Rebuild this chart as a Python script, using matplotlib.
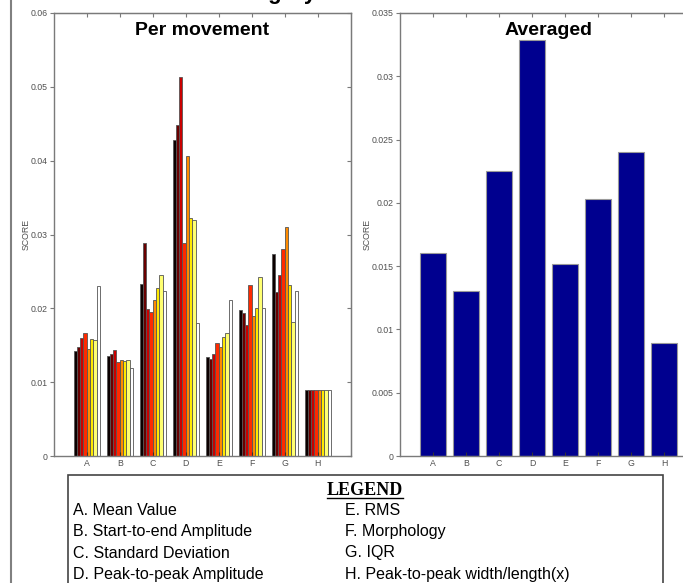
import numpy as np
import matplotlib
matplotlib.use('Agg')
import matplotlib.pyplot as plt
from matplotlib.lines import Line2D
from matplotlib.patches import Rectangle

plt.rcParams['font.family'] = ['Liberation Sans', 'DejaVu Sans']

# ---------------------------------------------------------------------
# Data
categories = ['A', 'B', 'C', 'D', 'E', 'F', 'G', 'H']

# Per movement scores: one list per movement (8 movements), one value per category
movement_scores = [
    [0.0142, 0.0136, 0.0233, 0.0428, 0.0134, 0.0198, 0.0274, 0.0090],
    [0.0148, 0.0138, 0.0289, 0.0448, 0.0131, 0.0194, 0.0222, 0.0089],
    [0.0160, 0.0143, 0.0199, 0.0513, 0.0138, 0.0177, 0.0245, 0.0090],
    [0.0166, 0.0127, 0.0195, 0.0288, 0.0153, 0.0232, 0.0281, 0.0089],
    [0.0145, 0.0130, 0.0211, 0.0406, 0.0148, 0.0190, 0.0310, 0.0089],
    [0.0159, 0.0129, 0.0228, 0.0322, 0.0161, 0.0201, 0.0232, 0.0089],
    [0.0157, 0.0130, 0.0245, 0.0320, 0.0167, 0.0242, 0.0182, 0.0089],
    [0.0230, 0.0119, 0.0223, 0.0180, 0.0211, 0.0201, 0.0224, 0.0089],
]

averaged_scores = [0.0160, 0.0130, 0.0225, 0.0329, 0.0152, 0.0203, 0.0240, 0.0089]

left_yticks = [0, 0.01, 0.02, 0.03, 0.04, 0.05, 0.06]
left_yticklabels = ['0', '0.01', '0.02', '0.03', '0.04', '0.05', '0.06']
right_yticks = [0, 0.005, 0.01, 0.015, 0.02, 0.025, 0.03, 0.035]
right_yticklabels = ['0', '0.005', '0.01', '0.015', '0.02', '0.025', '0.03', '0.035']

legend_left = ['A. Mean Value', 'B. Start-to-end Amplitude',
               'C. Standard Deviation', 'D. Peak-to-peak Amplitude']
legend_right = ['E. RMS', 'F. Morphology', 'G. IQR',
                'H. Peak-to-peak width/length(x)']

# ---------------------------------------------------------------------
W, H = 683, 583
fig = plt.figure(figsize=(W / 100, H / 100), dpi=100)

def px_axes(x0, x1, ytop, ybot):
    """Axes from pixel box (origin top-left)"""
    return fig.add_axes((x0 / W, 1 - ybot / H, (x1 - x0) / W, (ybot - ytop) / H))

SPINE = '#7a7a7a'
TICKTXT = '#505050'

def style_axes(ax, yticks, yticklabels, ymax):
    ax.set_xlim(0, 9)
    ax.set_ylim(0, ymax)
    ax.set_xticks(range(1, 9))
    ax.set_xticklabels(categories)
    ax.set_yticks(yticks)
    ax.set_yticklabels(yticklabels)
    for s in ax.spines.values():
        s.set_color(SPINE)
        s.set_linewidth(1.0)
    ax.tick_params(axis='y', direction='out', length=3, width=0.8, color=SPINE,
                   labelsize=6.3, labelcolor=TICKTXT, pad=1.5)
    ax.tick_params(axis='x', direction='in', length=3, width=0.8, color='#333333',
                   labelsize=6.3, labelcolor=TICKTXT, pad=2.5)
    ax.set_ylabel('SCORE', fontsize=6.3, color=TICKTXT, labelpad=0)

    # Box ticks on top / right point inward
    top = ax.secondary_xaxis('top')
    top.set_xticks(range(1, 9))
    top.tick_params(direction='in', length=3, width=0.8, color=SPINE, labeltop=False)
    top.spines['top'].set_color(SPINE)
    right = ax.secondary_yaxis('right')
    right.set_yticks(yticks)
    right.tick_params(direction='in', length=3, width=0.8, color=SPINE, labelright=False)
    right.spines['right'].set_color(SPINE)

# ---------- Per movement (grouped bars, hot colormap)
ax1 = px_axes(53.7, 350.7, 13, 456)
x = np.arange(1, len(categories) + 1)
nser = len(movement_scores)
colors = plt.cm.hot(np.linspace(0, 1, nser))
for i, vals in enumerate(movement_scores):
    ax1.bar(x + (i - (nser - 1) / 2) * 0.1, vals, width=0.1,
            color=colors[i], edgecolor='#555555', linewidth=0.6)
style_axes(ax1, left_yticks, left_yticklabels, 0.06)
ax1.text(0.5, 0.950, 'Per movement', transform=ax1.transAxes, ha='center',
         va='baseline', fontsize=14, fontweight='bold')

# ---------- Averaged
ax2 = px_axes(400, 697, 13, 456)
ax2.bar(x, averaged_scores, width=0.8, color='#00008f', edgecolor='#9a9a9a', linewidth=0.8)
style_axes(ax2, right_yticks, right_yticklabels, 0.035)
ax2.text(0.5, 0.950, 'Averaged', transform=ax2.transAxes, ha='center',
         va='baseline', fontsize=14, fontweight='bold')

# ---------- Page decorations: title (cut off by the page top) and left frame line
fig.text(316 / W, 1 + 1 / H, 'Score of each Category', ha='right', va='baseline',
         fontsize=16, fontweight='bold')
fig.add_artist(Line2D([11 / W, 11 / W], [0, 1], color='#808080', lw=1.5))

# ---------- Legend box
fig.add_artist(Rectangle((67.7 / W, -10 / H), (663 - 67.7) / W, (H + 10 - 475) / H,
                         transform=fig.transFigure, fill=False,
                         edgecolor='#444444', lw=1.2))
fig.text(365 / W, 1 - 495 / H, 'LEGEND', ha='center', va='baseline',
         fontsize=13, fontweight='bold', family='Liberation Serif')
fig.add_artist(Line2D([327 / W, 402.6 / W], [1 - 498 / H] * 2, color='black', lw=1.0))

row_y = [510.7, 531.7, 553, 574]
for ty, lt, rt in zip(row_y, legend_left, legend_right):
    fig.text(72.7 / W, 1 - ty / H, lt, ha='left', va='center', fontsize=11.5)
    fig.text(345 / W, 1 - ty / H, rt, ha='left', va='center', fontsize=11.5)

fig.savefig('out.png', dpi=100)
